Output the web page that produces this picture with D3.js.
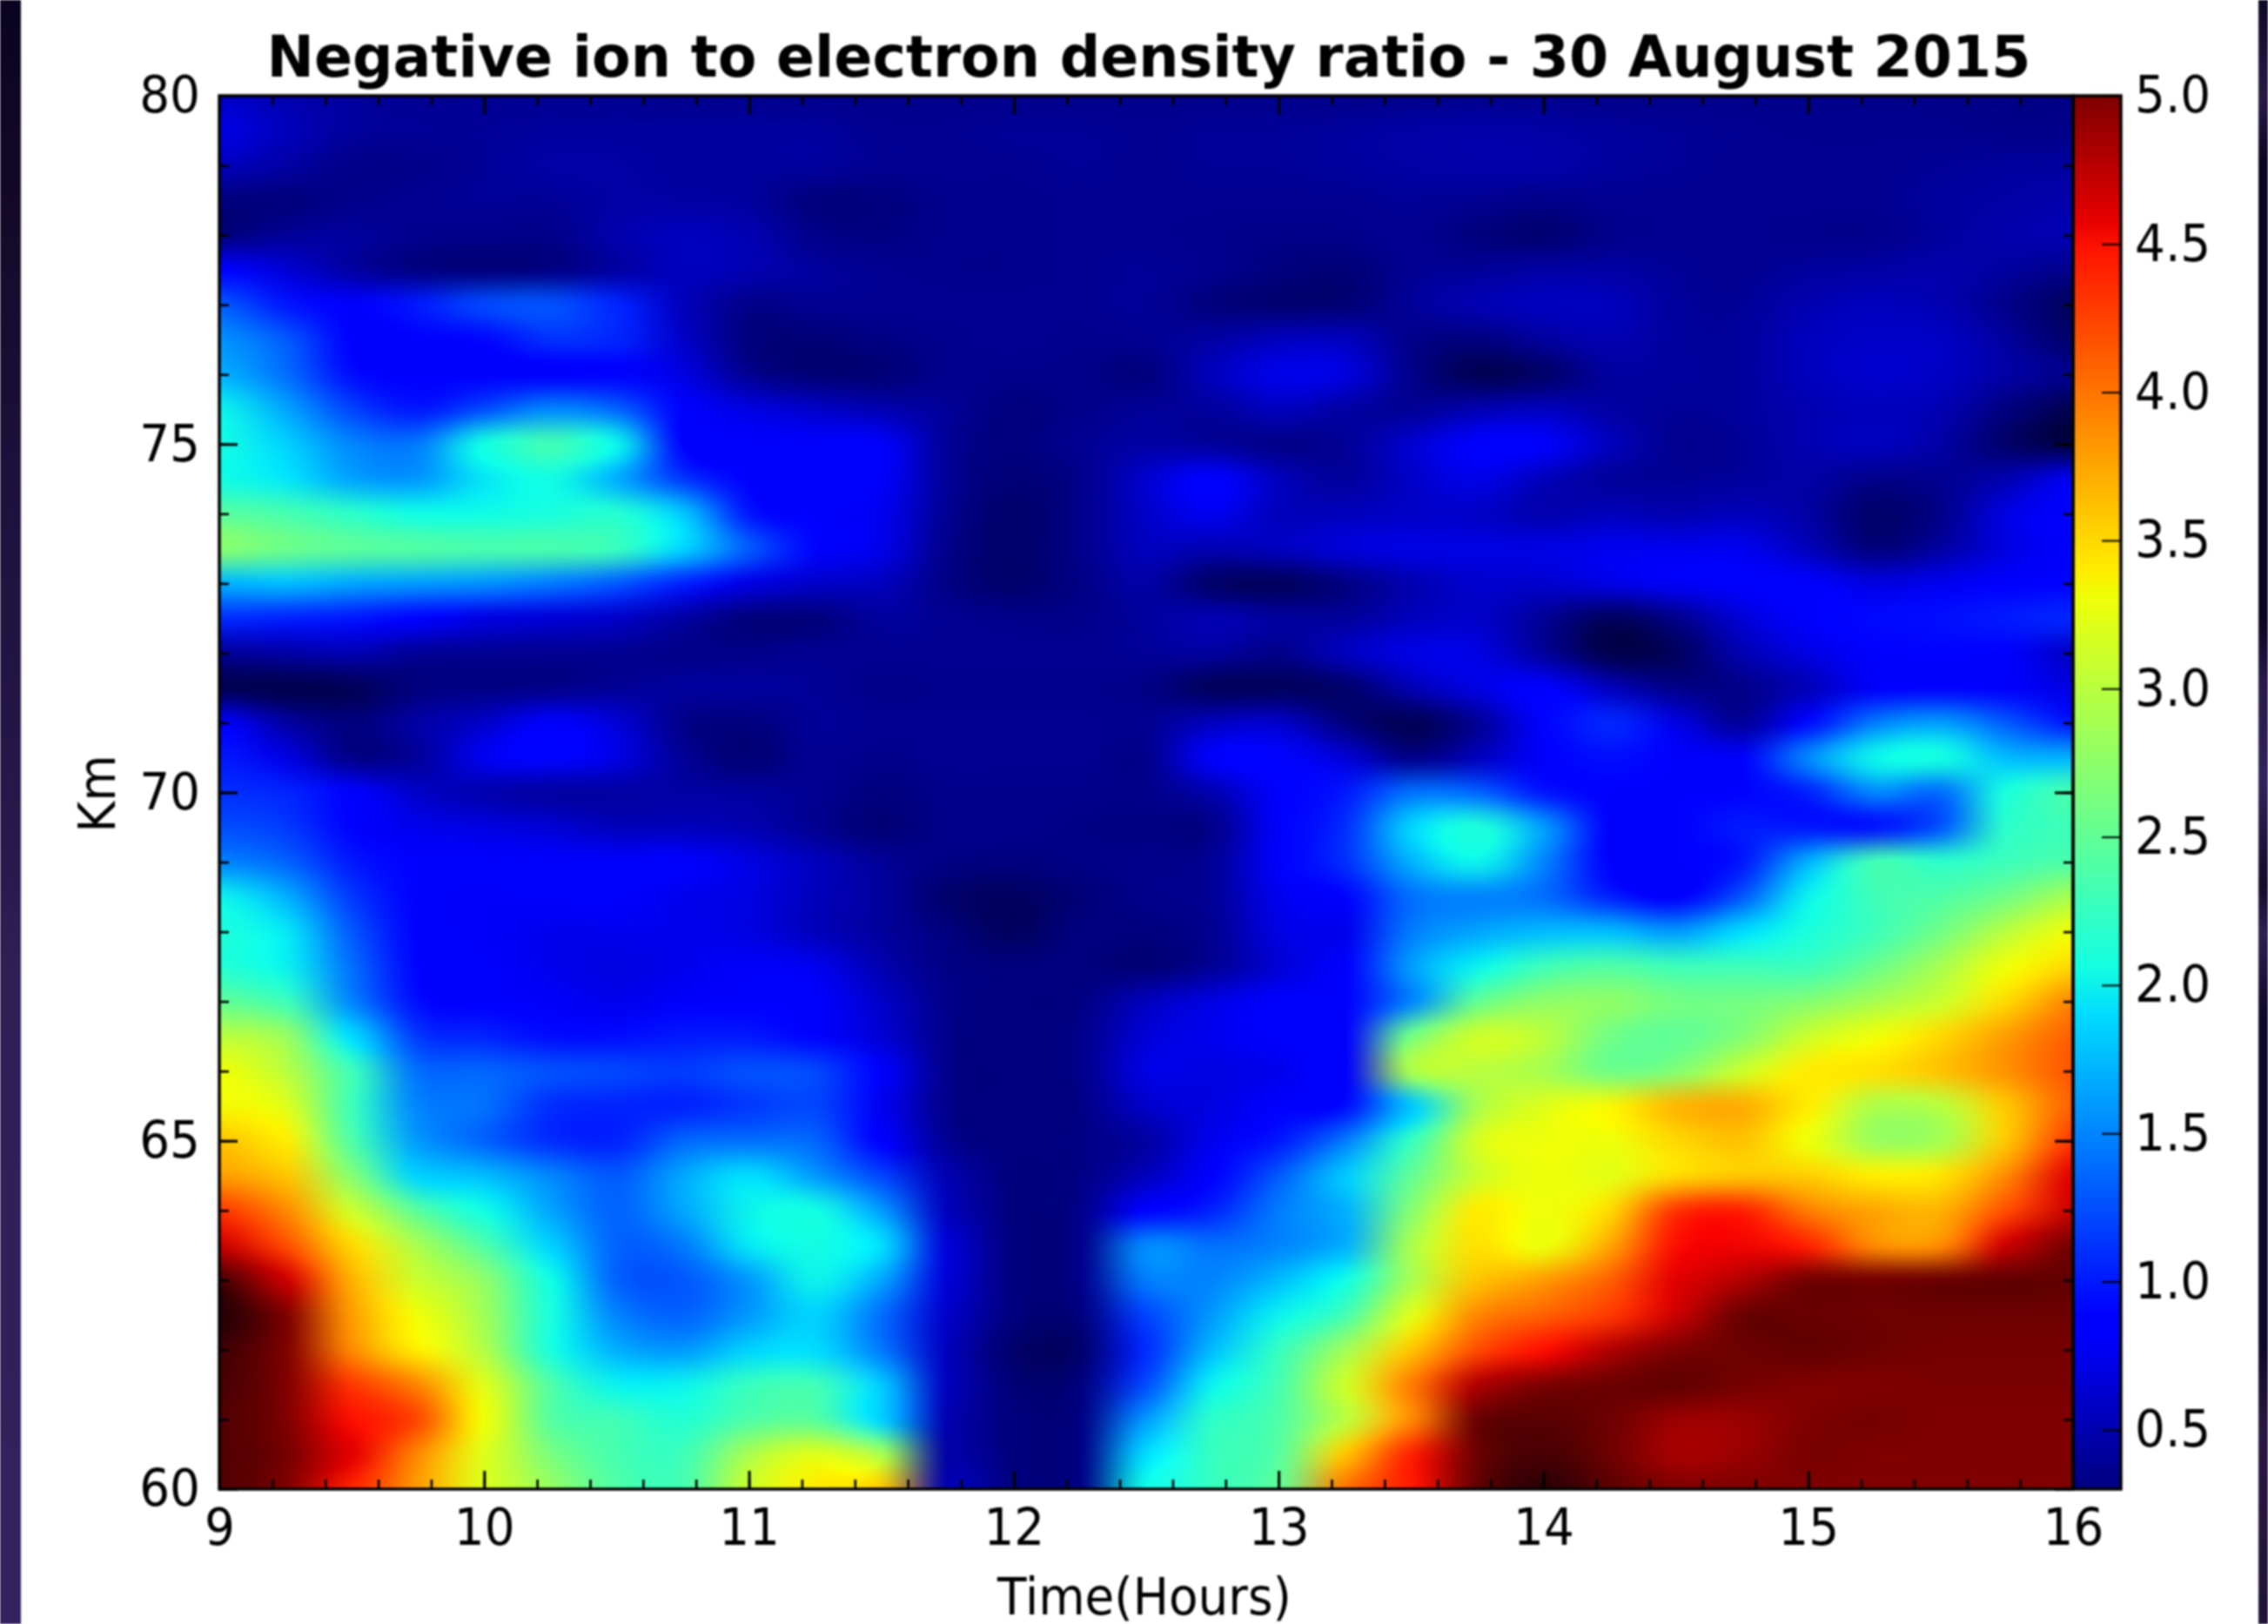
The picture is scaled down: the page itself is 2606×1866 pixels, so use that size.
<!DOCTYPE html>
<html><head><meta charset="utf-8">
<script src="https://cdn.jsdelivr.net/npm/d3@7"></script>
<style>
html,body{margin:0;padding:0;background:#fff;width:2606px;height:1866px;overflow:hidden}
#wrap{position:absolute;left:0;top:0;width:2606px;height:1866px;filter:blur(1.1px)}
canvas,svg{position:absolute}
text{font-family:"DejaVu Sans";fill:#000}
</style></head><body><div id="wrap"></div>
<script>
const titleText="Negative ion to electron density ratio - 30 August 2015";
const xLabel="Time(Hours)", yLabel="Km";
const hours=[9,9.25,9.5,9.75,10,10.25,10.5,10.75,11,11.25,11.5,11.75,12,12.25,12.5,12.75,13,13.25,13.5,13.75,14,14.25,14.5,14.75,15,15.25,15.5,15.75,16];
const kmLevels=[80,79.5,79,78.5,78,77.5,77,76.5,76,75.5,75,74.5,74,73.5,73,72.5,72,71.5,71,70.5,70,69.5,69,68.5,68,67.5,67,66.5,66,65.5,65,64.5,64,63.5,63,62.5,62,61.5,61,60.5,60];
const ratioRows=[
[.6,.5,.42,.38,.38,.38,.38,.36,.36,.36,.35,.35,.35,.35,.35,.35,.35,.35,.35,.36,.36,.35,.35,.35,.35,.35,.34,.33,.33],
[.7,.55,.42,.4,.4,.42,.42,.42,.42,.42,.38,.38,.4,.4,.38,.4,.4,.42,.45,.47,.45,.42,.4,.38,.37,.37,.37,.35,.35],
[.55,.45,.35,.35,.4,.45,.45,.42,.42,.42,.38,.38,.38,.4,.38,.4,.4,.42,.45,.47,.47,.42,.4,.38,.38,.38,.4,.42,.42],
[.3,.3,.35,.38,.4,.4,.45,.45,.42,.3,.3,.36,.36,.38,.38,.38,.38,.38,.4,.38,.35,.38,.38,.38,.38,.38,.42,.45,.48],
[.3,.4,.42,.36,.35,.35,.48,.55,.5,.35,.32,.36,.36,.38,.38,.36,.34,.35,.38,.3,.27,.35,.38,.38,.36,.36,.42,.48,.5],
[.9,.65,.45,.33,.3,.33,.45,.55,.5,.42,.38,.36,.36,.38,.4,.36,.3,.28,.38,.4,.45,.45,.4,.38,.42,.45,.48,.42,.35],
[1.3,1,.82,1,1.2,1.25,1.05,.55,.35,.38,.38,.38,.38,.38,.4,.3,.27,.28,.4,.5,.55,.55,.42,.4,.5,.55,.5,.35,.22],
[1.55,1.3,.85,.88,.92,1.1,1.05,.6,.3,.28,.32,.36,.38,.36,.38,.45,.55,.55,.35,.3,.42,.5,.42,.42,.55,.6,.58,.42,.25],
[1.7,1.4,.95,.82,.82,.85,.9,.7,.38,.28,.28,.36,.35,.35,.3,.55,.72,.68,.35,.2,.25,.42,.42,.42,.55,.62,.58,.45,.35],
[2,1.65,1.2,1,1.25,1.5,1.35,.85,.7,.6,.5,.4,.3,.35,.4,.42,.55,.45,.4,.5,.55,.45,.4,.42,.5,.55,.5,.3,.18],
[2.05,1.85,1.5,1.45,2.05,2.3,2,.9,.85,.85,.8,.4,.3,.38,.45,.42,.35,.4,.62,.82,.8,.55,.38,.4,.5,.55,.45,.25,.15],
[2.05,1.95,1.65,1.6,1.95,2.05,1.7,1.15,.85,.85,.8,.4,.28,.35,.62,.88,.55,.42,.6,.72,.55,.42,.4,.42,.45,.35,.38,.5,.75],
[2.45,2.35,2.2,2.05,2.05,2.1,2.15,1.8,1,.85,.75,.38,.25,.35,.6,.75,.55,.55,.6,.6,.5,.55,.5,.55,.45,.25,.35,.7,.88],
[2.7,2.55,2.45,2.4,2.35,2.35,2.25,1.85,1.3,.9,.72,.35,.25,.35,.55,.5,.55,.65,.7,.7,.7,.75,.75,.75,.55,.3,.45,.7,.85],
[1.7,1.75,1.65,1.6,1.55,1.45,1.3,1.05,.7,.6,.55,.33,.25,.33,.45,.25,.22,.32,.5,.62,.62,.7,.78,.82,.85,.7,.75,.85,.9],
[1.1,1.05,1,.9,.7,.65,.6,.45,.3,.3,.42,.38,.35,.35,.42,.5,.42,.42,.55,.6,.4,.22,.35,.65,.85,.92,.95,1,1.05],
[.4,.45,.5,.4,.38,.38,.38,.35,.35,.38,.38,.38,.38,.38,.4,.42,.35,.55,.7,.7,.42,.18,.22,.5,.7,.85,.9,.85,.6],
[.2,.18,.2,.3,.33,.35,.4,.42,.42,.4,.35,.36,.36,.36,.33,.22,.22,.25,.5,.7,.82,.55,.35,.35,.55,.8,.9,.85,.7],
[.8,.45,.3,.45,.6,.8,.65,.35,.3,.4,.38,.38,.38,.38,.38,.55,.6,.3,.2,.4,.9,1.05,.7,.42,.95,1.45,1.6,1.3,1],
[1,.7,.35,.42,.75,.9,.7,.4,.28,.38,.35,.38,.38,.38,.36,.8,.9,.65,.35,.55,.8,.95,.85,.8,1.5,2,2.05,1.75,1.7],
[1.1,1.05,.85,.6,.5,.45,.45,.45,.42,.38,.3,.35,.35,.35,.35,.5,.85,1,1.4,1.35,1,.85,.85,.9,1.05,1.5,1.4,2.1,2.35],
[1.25,1.15,.9,.75,.7,.65,.55,.55,.5,.38,.28,.35,.35,.33,.32,.35,.8,1.1,1.85,2.1,1.6,.85,.85,1,1,1,1.3,2.2,2.3],
[1.5,1.35,1,.85,.85,.85,.85,.85,.7,.55,.4,.32,.3,.33,.35,.4,.8,1.1,1.7,2,1.5,.85,.85,1,1.7,2.3,2.2,2.3,2.4],
[2,1.7,1.15,.85,.8,.85,.82,.75,.7,.55,.42,.25,.22,.28,.35,.4,.75,.9,1.4,1.5,1.4,1.05,.85,1.3,2,2.3,2.4,2.6,2.9],
[2.1,1.95,1.3,.85,.8,.75,.75,.75,.7,.55,.42,.3,.22,.3,.3,.38,.7,.75,1.45,1.65,1.75,1.75,1.6,1.9,2.1,2.3,2.6,3,3.3],
[2.15,2,1.4,.9,.82,.75,.7,.75,.8,.75,.5,.33,.3,.3,.28,.4,.65,.85,1.6,2,2.3,2.4,2.3,2.3,2.3,2.55,2.9,3.3,3.5],
[2.5,2.3,1.5,.95,.85,.8,.75,.8,.85,.85,.6,.35,.3,.32,.55,.7,.82,.85,1.5,2.5,2.75,2.75,2.6,2.6,2.7,2.9,3.1,3.5,3.9],
[3,2.8,1.9,1.15,1.05,.95,.95,1,1,.9,.65,.35,.3,.35,.65,.75,.85,.85,2.6,3.1,3,2.6,2.5,2.7,3.1,3.3,3.5,3.8,4.1],
[3.3,3,2.3,1.4,1.35,1.25,1.2,1.15,1.25,1.2,.8,.35,.3,.35,.7,.7,.75,.8,2.9,3,2.9,2.6,2.7,3.1,3.4,3.45,3.6,3.85,4.15],
[3.35,3.2,2.3,1.5,1.4,1.1,1.05,1.05,1.15,1.2,.75,.35,.3,.33,.6,.7,.85,.95,1.8,2.9,3.2,3.35,3.65,3.7,3.4,2.95,3,3.6,4.1],
[3.6,3.4,2.4,1.6,1.35,1.1,1.05,1.35,1.4,1.35,.85,.38,.3,.33,.45,.75,1,1.45,2.25,3.15,3.3,3.3,3.5,3.6,3.3,2.85,2.9,3.6,4.3],
[3.8,3.6,2.7,1.85,1.75,1.5,1.3,1.65,1.9,1.6,1.2,.5,.3,.33,.55,.85,1.3,1.8,2.5,3.1,3.3,3.25,3.5,3.6,3.55,3.4,3.45,3.9,4.6],
[4.3,3.9,3.1,2.45,2.05,1.65,1.35,1.65,2,2.05,1.6,.55,.3,.35,.9,1.05,1.45,1.7,2.7,3.4,3.3,3.5,4.3,4.4,3.95,3.75,3.7,4.2,4.7],
[4.7,4.2,3.5,2.9,2.4,1.85,1.35,1.45,1.95,2.05,1.9,.65,.3,.35,1.5,1.4,1.5,1.7,2.9,3.45,3.3,3.75,4.5,4.55,4.4,3.9,3.9,4.7,5.1],
[5.6,4.7,3.7,3.1,2.75,2.05,1.35,1.3,1.6,2,1.65,.65,.3,.35,1.45,1.5,1.75,2.05,2.9,3.6,3.8,4.1,4.6,4.8,5.1,5.1,5.2,5.3,5.3],
[6,5,3.8,3.3,2.85,2.1,1.5,1.35,1.6,1.85,1.4,.6,.3,.3,1.2,1.6,2,2.35,3.2,3.9,4.1,4.3,4.7,5.2,5.25,5.2,5.2,5.2,5.2],
[5.7,5,3.9,3.4,2.95,2.1,1.7,1.6,1.85,1.9,1.45,.55,.25,.25,1.1,1.75,2.25,2.85,3.6,4.2,4.5,4.8,5,5.2,5.3,5.2,5.1,5.1,5.1],
[5.6,5,4.3,3.9,3.2,2.4,2,2,2.25,2.3,1.8,.55,.28,.3,1.25,2,2.35,3.1,3.95,4.8,5,5.2,5.3,5.1,5,5,5.05,5.05,5.05],
[5.5,5,4.5,4.2,3.3,2.45,2.3,2.15,2.4,2.45,1.85,.5,.3,.32,1.6,2.2,2.4,3,3.9,5.2,5.4,5.2,4.9,4.9,5,5.1,5,5,5],
[5.5,5.1,4.6,3.9,3.2,2.65,2.35,2.3,2.9,3.2,2.9,.45,.3,.33,1.9,2.25,2.45,3.6,4.4,5.2,5.6,5.2,4.85,4.9,5.05,5,5,5,5],
[5.5,5,4.4,3.8,3.2,2.8,2.4,2.35,3.1,3.4,3.6,.5,.3,.33,2.05,2.25,2.5,4,4.45,5.3,5.9,5.4,5,5,5,5,5,5,5]
];
const colorStops=[.1,.3,.817,.888,1.898,2.063,3.308,3.402,4.483,4.577,5,6];
const colorRamp=["#000032","#00007f","#0000ff","#0000ff","#00dbff","#14ffe2","#efff08","#ffec00","#ff1300","#e80000","#7f0000","#230005"];
const cbTicks=[.5,1,1.5,2,2.5,3,3.5,4,4.5,5];
const xMajor=[9,10,11,12,13,14,15,16];
const yMajor=[60,65,70,75,80];
const PL=252,PR=2382,PT=110,PB=1711,CR=2437;
const FS=59,SX=.93;
const x=d3.scaleLinear().domain([9,16]).range([PL,PR]);
const y=d3.scaleLinear().domain([60,80]).range([PB,PT]);
const cy=d3.scaleLinear().domain([.3,5]).range([PB,PT]);
const color=d3.scaleLinear().domain(colorStops).range(colorRamp).clamp(true);
const wrap=d3.select("#wrap");
const W=PR-PL,H=PB-PT;
const cv=wrap.append("canvas").attr("width",W).attr("height",H).style("left",PL+"px").style("top",PT+"px").node();
const ctx=cv.getContext("2d");const img=ctx.createImageData(W,H);
const nr=kmLevels.length,nc=hours.length;
const cells=ratioRows.map(r=>r.map(v=>{const c=d3.rgb(color(v));return [c.r,c.g,c.b];}));
const colIdx=d3.scaleLinear().domain(d3.extent(hours)).range([0,nc-1]);
const rowIdx=d3.scaleLinear().domain([80,60]).range([0,nr-1]);
function wts(t){const t2=t*t,t3=t2*t;return [-.5*t+t2-.5*t3,1-2.5*t2+1.5*t3,.5*t+2*t2-1.5*t3,-.5*t2+.5*t3];}
const cl=(i,n)=>i<0?0:i>=n?n-1:i;
const xw=[];for(let i=0;i<W;i++){const u=colIdx(x.invert(PL+i+.5));const f=Math.floor(u);xw.push([f,wts(u-f)]);}
for(let j=0;j<H;j++){
  const v=rowIdx(y.invert(PT+j+.5));const g=Math.floor(v);const wy=wts(v-g);
  const rows=[cells[cl(g-1,nr)],cells[cl(g,nr)],cells[cl(g+1,nr)],cells[cl(g+2,nr)]];
  for(let i=0;i<W;i++){
    const [f,wx]=xw[i];let r=0,gg=0,b=0;
    for(let a=0;a<4;a++){const row=rows[a];
      for(let q=0;q<4;q++){const c=row[cl(f-1+q,nc)],w=wy[a]*wx[q];r+=c[0]*w;gg+=c[1]*w;b+=c[2]*w;}}
    const k=(j*W+i)*4;img.data[k]=r;img.data[k+1]=gg;img.data[k+2]=b;img.data[k+3]=255;
  }
}
ctx.putImageData(img,0,0);
const bw=CR-PR;
const cb=wrap.append("canvas").attr("width",bw).attr("height",H).style("left",PR+"px").style("top",PT+"px").node();
const cc=cb.getContext("2d");
d3.range(H).forEach(j=>{cc.fillStyle=color(cy.invert(PT+j+.5));cc.fillRect(0,j,bw,1);});
const svg=wrap.append("svg").attr("width",2606).attr("height",1866).style("left",0).style("top",0);
const defs=svg.append("defs");
function grad(id,stops){const g=defs.append("linearGradient").attr("id",id).attr("x1",0).attr("x2",0).attr("y1",0).attr("y2",1);
 stops.forEach(s=>g.append("stop").attr("offset",s[0]).attr("stop-color",s[1]));}
grad("lb",[[0,"#0a0420"],[.13,"#140a28"],[.26,"#1a1038"],[.5,"#26184a"],[.6,"#2e1f55"],[.9,"#31215c"],[1,"#32215e"]]);
grad("rb",[[0,"#0f0825"],[.06,"#2a1a45"],[.1,"#0c0520"],[.38,"#0c0520"],[.42,"#2a1a48"],[.48,"#32235a"],[.545,"#140c28"],[.575,"#2e2050"],[.625,"#100828"],[.83,"#100828"],[.88,"#2a1840"],[1,"#211438"]]);
svg.append("rect").attr("x",0).attr("y",0).attr("width",24).attr("height",1866).attr("fill","url(#lb)");
svg.append("rect").attr("x",2595).attr("y",0).attr("width",11).attr("height",1866).attr("fill","url(#rb)");
function squeeze(sel){sel.each(function(){const t=d3.select(this);const X=+t.attr("x")||0;t.attr("x",0).attr("transform",`translate(${X},0) scale(${SX},1)`);});}
function style(g,size){g.select(".domain").remove();g.selectAll("line").attr("stroke","#000").attr("stroke-width",size);
 g.selectAll("text").attr("font-size",FS).attr("font-family","DejaVu Sans").attr("fill","#000").call(squeeze);}
const xMinor=d3.range(9,16.01,.2).map(v=>+v.toFixed(1));
const yMinor=d3.range(60,80.01,1);
svg.append("g").attr("transform",`translate(0,${PB})`).call(d3.axisBottom(x).tickValues(xMinor).tickSize(-11).tickFormat("")).call(style,2.6);
svg.append("g").attr("transform",`translate(0,${PT})`).call(d3.axisTop(x).tickValues(xMinor).tickSize(-11).tickFormat("")).call(style,2.6);
svg.append("g").attr("transform",`translate(0,${PB})`).call(d3.axisBottom(x).tickValues(xMajor).tickSize(-21).tickPadding(22).tickFormat(d3.format("d"))).call(style,3);
svg.append("g").attr("transform",`translate(0,${PT})`).call(d3.axisTop(x).tickValues(xMajor).tickSize(-21).tickFormat("")).call(style,3);
svg.append("g").attr("transform",`translate(${PL},0)`).call(d3.axisLeft(y).tickValues(yMinor).tickSize(-11).tickFormat("")).call(style,2.6);
svg.append("g").attr("transform",`translate(${PR},0)`).call(d3.axisRight(y).tickValues(yMinor).tickSize(-11).tickFormat("")).call(style,2.6);
svg.append("g").attr("transform",`translate(${PL},0)`).call(d3.axisLeft(y).tickValues(yMajor).tickSize(-21).tickPadding(22).tickFormat(d3.format("d"))).call(style,3);
svg.append("g").attr("transform",`translate(${PR},0)`).call(d3.axisRight(y).tickValues(yMajor).tickSize(-21).tickFormat("")).call(style,3);
svg.append("g").attr("transform",`translate(${CR},0)`).call(d3.axisRight(cy).tickValues(cbTicks).tickSize(-22).tickPadding(16).tickFormat(d3.format(".1f"))).call(style,2);
svg.append("rect").attr("x",PL).attr("y",PT).attr("width",W).attr("height",H).attr("fill","none").attr("stroke","#000").attr("stroke-width",3.5);
svg.append("rect").attr("x",PR).attr("y",PT).attr("width",bw).attr("height",H).attr("fill","none").attr("stroke","#000").attr("stroke-width",3.5);
svg.append("text").attr("x",1320).attr("y",88).attr("text-anchor","middle").attr("font-size",65).attr("font-weight","bold").attr("font-family","DejaVu Sans").text(titleText);
svg.append("text").attr("transform",`translate(1315,1855) scale(${SX},1)`).attr("text-anchor","middle").attr("font-size",FS).attr("font-family","DejaVu Sans").text(xLabel);
svg.append("text").attr("transform",`translate(132,912) rotate(-90) scale(${SX},1)`).attr("text-anchor","middle").attr("font-size",FS).attr("font-family","DejaVu Sans").text(yLabel);
</script></body></html>
